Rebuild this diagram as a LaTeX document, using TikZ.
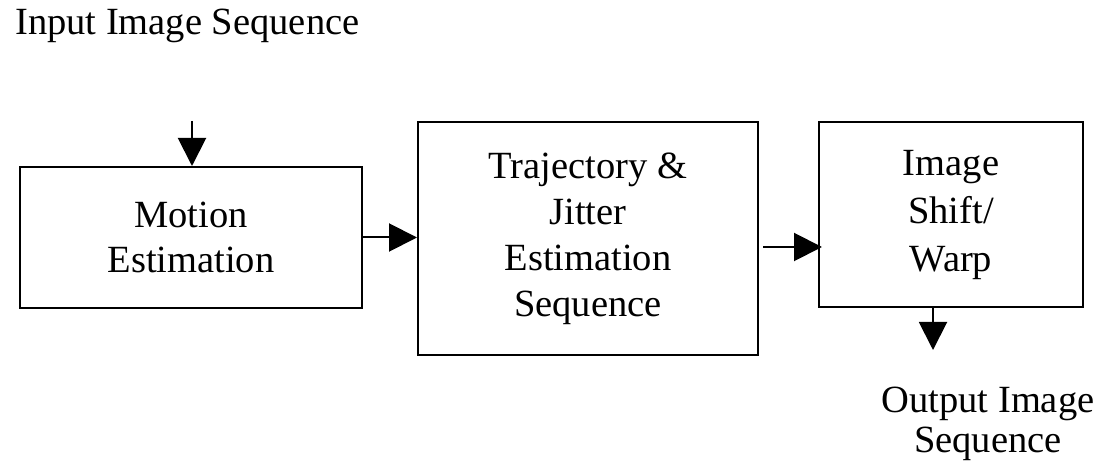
\documentclass[tikz,border=0pt]{standalone}
\usepackage{fontspec}
\setmainfont{Liberation Serif}
\usetikzlibrary{arrows.meta}
\begin{document}
\begin{tikzpicture}[x=1pt,y=1pt,
  blk/.style={draw=black, line width=2pt, align=center, inner sep=0pt,
    font=\fontsize{38.5}{45}\selectfont},
  lbl/.style={align=center, inner sep=0pt, font=\fontsize{38.5}{40}\selectfont},
  arr/.style={line width=2pt, -{Triangle[length=28pt,width=28pt]}}]
\useasboundingbox (0,0) rectangle (1104,461);
\node[blk, minimum width=342pt, minimum height=141pt] (b1) at (191,223.5) {Motion\\Estimation};
\node[blk, minimum width=340pt, minimum height=233pt, font=\fontsize{38.5}{46}\selectfont] (b2) at (588,222.5) {Trajectory \&\\Jitter\\Estimation\\Sequence};
\node[blk, minimum width=264pt, minimum height=185pt, font=\fontsize{38.5}{48}\selectfont] (b3) at (951,246.5) {Image\\Shift/\\Warp};
\node[lbl, anchor=base west] (in) at (15,426) {Input Image Sequence};
\node[lbl] (out) at (988,37) {Output Image\\Sequence};
\coordinate (inTop) at (192,340);
\coordinate (outEnd) at (933,111);
\draw[arr] (inTop) -- (inTop |- b1.north);
\draw[arr] (b1.east) -- (b1.east -| b2.west);
\draw[arr] ([xshift=4pt,yshift=-8.5pt]b2.east) -- ([xshift=4pt,yshift=-8.5pt]b2.east -| b3.west);
\draw[arr] (outEnd |- b3.south) -- (outEnd);
\end{tikzpicture}
\end{document}
